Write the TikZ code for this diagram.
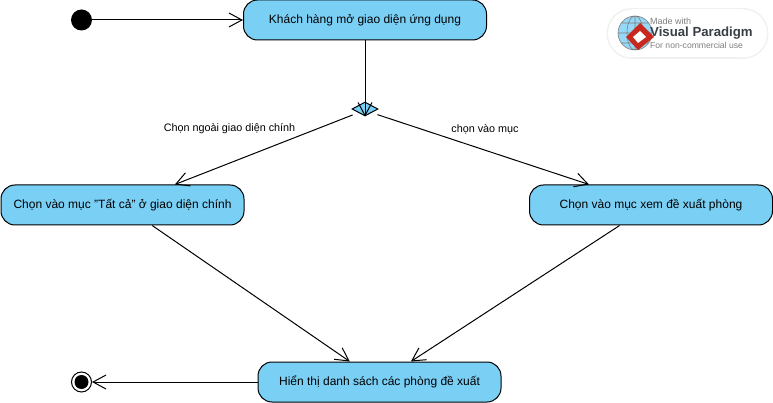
\documentclass[tikz,border=0pt]{standalone}
\usepackage{fontspec}
\setmainfont{Liberation Sans}
\usetikzlibrary{arrows.meta,shapes.geometric}
\definecolor{actfill}{HTML}{7ACFF5}
\definecolor{vpgrey}{HTML}{7F7F7F}
\definecolor{vpdark}{HTML}{3A3F45}
\definecolor{vpred}{HTML}{C8281E}
\tikzset{
    action/.style={draw, fill=actfill, line width=1pt, rounded corners=14pt, minimum width=243pt,
                   minimum height=40pt, inner sep=0pt, font=\fontsize{12}{14}\selectfont},
    guard/.style={font=\fontsize{10.8}{13}\selectfont, inner sep=0pt},
    flow/.style={line width=1pt, -{Straight Barb[length=13pt,width=14pt,line width=1pt]}},
    vptext/.style={anchor=west, inner sep=0pt}
}
\begin{document}
\begin{tikzpicture}[x=1pt, y=-1pt]
        \useasboundingbox (0,0) rectangle (773,403);
        % watermark
        \fill[black!6] (630,8) rectangle (745,59);
        \fill[black!6] (632,33.5) circle (25.5) (743,33.5) circle (25.5);
        \fill[white] (632,9.5) rectangle (743,57.5);
        \fill[white] (632,33.5) circle (24) (743,33.5) circle (24);
        \fill[actfill!80!white] (635,33) circle (17);
        \draw[vpgrey, line width=.6pt] (635,33) circle (17) (635,33) ellipse (8 and 17)
                (618,33) -- (652,33) (621,23) -- (649,23) (621,43) -- (649,43) (635,16) -- (635,50);
        \fill[vpred] (640,23) -- (654,37) -- (638,50) -- (626,37) -- cycle;
        \fill[white] (640,31) -- (646,37) -- (638,43) -- (633,37) -- cycle;
        \node[vptext, text=vpgrey, font=\fontsize{9}{11}\selectfont] (vpmade) at (650,21) {Made with};
        \node[vptext, text=vpdark, font=\bfseries\fontsize{13.2}{15}\selectfont] (vpname) at (650,33) {Visual Paradigm};
        \node[vptext, text=vpgrey, font=\fontsize{8.6}{11}\selectfont] (vpuse) at (650,45) {For non-commercial use};

        \node[circle, fill=black, minimum size=21pt, inner sep=0pt] (start) at (81.5,20) {};
        \node[action] (open) at (365,20) {Khách hàng mở giao diện ứng dụng};
        \node[diamond, draw, fill=actfill, line width=1pt, aspect=1.9, minimum width=26pt, minimum height=14pt, inner sep=0pt] (choice) at (365,109) {};
        \node[action] (all) at (122.5,205) {Chọn vào mục "Tất cả" ở giao diện chính};
        \node[action] (suggest) at (651,205) {Chọn vào mục xem đề xuất phòng};
        \node[action] (rooms) at (379.5,382) {Hiển thị danh sách các phòng đề xuất};
        \node[circle, draw, fill=white, line width=1pt, minimum size=20pt, inner sep=0pt] (finish) at (81.5,382) {};
        \node[circle, fill=black, minimum size=14pt, inner sep=0pt] (finishdot) at (81.5,382) {};
        \node[guard] (guardleft) at (229.5,129) {Chọn ngoài giao diện chính};
        \node[guard] (guardright) at (485,129) {chọn vào mục};

        \draw[flow] (start) -- (open);
        \draw[flow] (open) -- (choice.south);
        \draw[flow, shorten <=6pt] (choice.south west) -- (all);
        \draw[flow, shorten <=6pt] (choice.south east) -- (suggest);
        \draw[flow] (all) -- (rooms);
        \draw[flow] (suggest) -- (rooms);
        \draw[flow] (rooms) -- (finish);
    \end{tikzpicture}
\end{document}
